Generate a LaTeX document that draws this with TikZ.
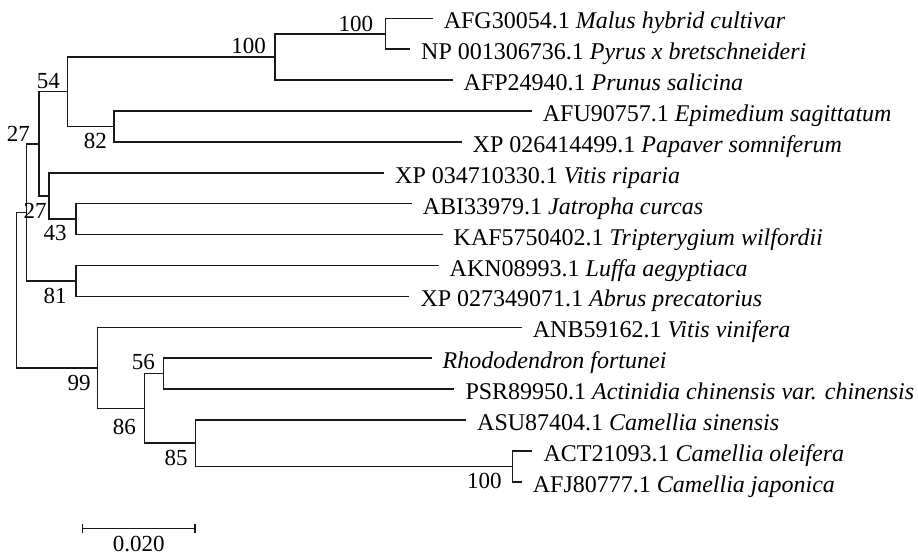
\documentclass[tikz,border=0pt]{standalone}
\usepackage{fontspec}
\setmainfont{Liberation Serif}
\usetikzlibrary{calc}
\tikzset{
  br/.style={line width=1.5pt, draw=black!90},
  leaf/.style={anchor=west, inner xsep=11pt, inner ysep=0pt, text height=22.5pt, text depth=1.5pt, font=\fontsize{24}{28}\selectfont},
  bs/.style={inner sep=0pt, font=\fontsize{23}{27}\selectfont},
}
\begin{document}
\begin{tikzpicture}[x=1pt,y=-1pt]
\useasboundingbox (0,0) rectangle (918,555);
% leaves
\node[leaf] (L1) at (432.6,18.3) {AFG30054.1 \textit{Malus hybrid cultivar}};
\node[leaf] (L2) at (410,49.2) {NP 001306736.1 \textit{Pyrus x bretschneideri}};
\node[leaf] (L3) at (452.5,80.1) {AFP24940.1 \textit{Prunus salicina}};
\node[leaf] (L4) at (531.7,111.0) {AFU90757.1 \textit{Epimedium sagittatum}};
\node[leaf] (L5) at (461.5,141.9) {XP 026414499.1 \textit{Papaver somniferum}};
\node[leaf] (L6) at (384,172.8) {XP 034710330.1 \textit{Vitis riparia}};
\node[leaf] (L7) at (411.7,203.7) {ABI33979.1 \textit{Jatropha curcas}};
\node[leaf] (L8) at (442.5,234.6) {KAF5750402.1 \textit{Tripterygium wilfordii}};
\node[leaf] (L9) at (438.5,265.5) {AKN08993.1 \textit{Luffa aegyptiaca}};
\node[leaf] (L10) at (409.3,296.4) {XP 027349071.1 \textit{Abrus precatorius}};
\node[leaf] (L11) at (521.7,327.3) {ANB59162.1 \textit{Vitis vinifera}};
\node[leaf] (L12) at (431.5,358.2) {\textit{Rhododendron fortunei}};
\node[leaf] (L13) at (454.3,389.1) {PSR89950.1 \textit{Actinidia chinensis var. chinensis}};
\node[leaf] (L14) at (466,420.0) {ASU87404.1 \textit{Camellia sinensis}};
\node[leaf] (L15) at (532.3,450.9) {ACT21093.1 \textit{Camellia oleifera}};
\node[leaf] (L16) at (521.7,481.8) {AFJ80777.1 \textit{Camellia japonica}};
% internal nodes
\coordinate (n1) at (385.7,33.75);
\coordinate (n2) at (275,56.9);
\coordinate (n3) at (114,126.45);
\coordinate (n4) at (67.7,91.7);
\coordinate (n5) at (76,219.15);
\coordinate (n6) at (49,196);
\coordinate (n7) at (39,143.85);
\coordinate (n8) at (76,280.95);
\coordinate (n9) at (26.7,212.4);
\coordinate (n10) at (163.3,373.65);
\coordinate (n11) at (512.3,466.35);
\coordinate (n12) at (195.7,443.2);
\coordinate (n13) at (144.3,408.4);
\coordinate (n14) at (97.7,367.85);
\coordinate (root) at (16.7,290.1);
% branches
\draw[br] (L1.west) -| (n1) |- (L2.west);
\draw[br] (n1) -| (n2) |- (L3.west);
\draw[br] (L4.west) -| (n3) |- (L5.west);
\draw[br] (n2) -| (n4) |- (n3);
\draw[br] (L7.west) -| (n5) |- (L8.west);
\draw[br] (L6.west) -| (n6) |- (n5);
\draw[br] (n4) -| (n7) |- (n6);
\draw[br] (L9.west) -| (n8) |- (L10.west);
\draw[br] (n7) -| (n9) |- (n8);
\draw[br] (L12.west) -| (n10) |- (L13.west);
\draw[br] (L15.west) -| (n11) |- (L16.west);
\draw[br] (L14.west) -| (n12) |- (n11);
\draw[br] (n10) -| (n13) |- (n12);
\draw[br] (L11.west) -| (n14) |- (n13);
\draw[br] (n9) -| (root) |- (n14);
% bootstrap values
\node[bs, anchor=south east] (b1) at (373.3,31.7) {100};
\node[bs, anchor=south east] (b2) at (266,54) {100};
\node[bs, anchor=south east] (b4) at (60,89) {54};
\node[bs, anchor=north east] (b3) at (107,133) {82};
\node[bs, anchor=south east] (b7) at (30,141.7) {27};
\node[bs, anchor=north east] (b6) at (46.7,203.3) {27};
\node[bs, anchor=north east] (b5) at (66.7,225) {43};
\node[bs, anchor=north east] (b8) at (66.7,288) {81};
\node[bs, anchor=north east] (b14) at (90.7,375) {99};
\node[bs, anchor=south east] (b10) at (155,370) {56};
\node[bs, anchor=north east] (b13) at (136,419) {86};
\node[bs, anchor=north east] (b12) at (187.7,450) {85};
\node[bs, anchor=north east] (b11) at (501.7,473) {100};
% scale bar
\coordinate (s1) at (82.3,528.5);
\coordinate (s2) at (195,528.5);
\draw[br] (s1) -- (s2);
\draw[br] ($(s1)+(0,-4.5)$) -- ($(s1)+(0,4.5)$);
\draw[br] ($(s2)+(0,-4.5)$) -- ($(s2)+(0,4.5)$);
\node[bs, anchor=north] (sl) at (138.7,535.5) {0.020};
\end{tikzpicture}
\end{document}
